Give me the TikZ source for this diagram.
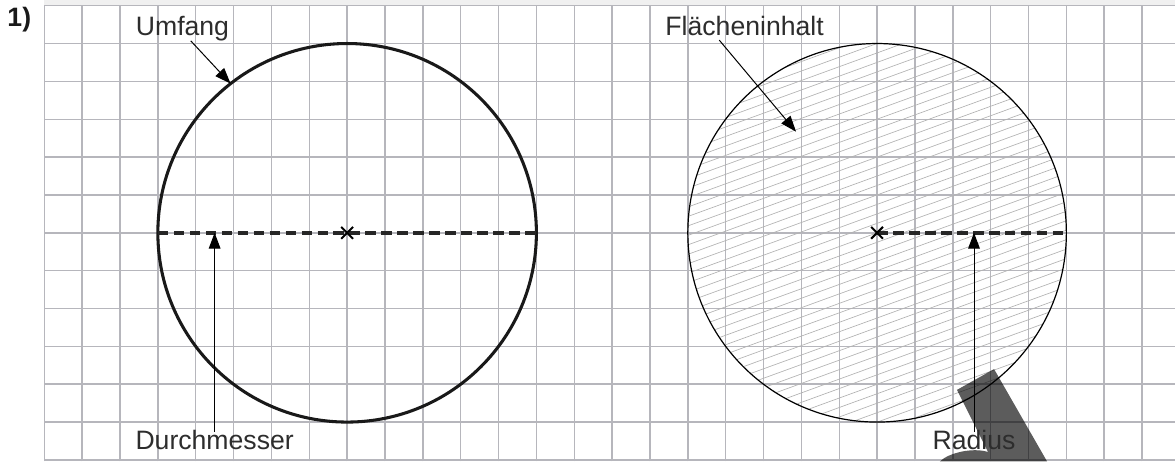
\documentclass[tikz,border=0pt]{standalone}
\usepackage{fontspec}
\setmainfont{Liberation Sans}
\usetikzlibrary{arrows.meta,shapes.misc}
\definecolor{gridgray}{RGB}{182,182,188}
\definecolor{hatchgray}{RGB}{178,178,178}
\definecolor{txtgray}{RGB}{45,45,45}

\begin{document}
\begin{tikzpicture}[
  gridline/.style={gridgray, line width=1.1pt},
  hatch/.style={hatchgray, line width=0.5pt},
  disc/.style={circle, draw, minimum size=10cm, inner sep=0pt, outer sep=0pt},
  dia/.style={line width=2.6pt, black!85, dash pattern=on 8pt off 4pt},
  mid/.style={cross out, draw, minimum size=0.26cm, inner sep=0pt, line width=1.5pt},
  lbl/.style={text=txtgray, font=\fontsize{20}{24}\selectfont, inner xsep=2pt, inner ysep=1pt, text height=0.75em, text depth=0.25em, anchor=base},
  arr/.style={-{Triangle[length=0.42cm,width=0.31cm]}, line width=0.75pt}
]
  \useasboundingbox (-1.17,-0.04) rectangle (29.87,12.15);
  \fill[gray!12] (0,12) rectangle (29.87,12.15);
  \foreach \y in {0,...,12} \draw[gridline] (0,\y) -- (29.87,\y);
  \foreach \x in {0,...,29} \draw[gridline] (\x,-0.04) -- (\x,12);

  \begin{scope}
    \clip (22,6) circle (5);
    \foreach \i in {-22,...,22}
      \draw[hatch, rotate around={20:(22,6)}] (16.5,{6+0.235*\i}) -- (27.5,{6+0.235*\i});
  \end{scope}

  \node[disc, line width=2.3pt, black!90] (lc) at (8,6) {};
  \node[disc, line width=0.9pt] (rc) at (22,6) {};
  \draw[dia] (lc.west) -- (lc.east);
  \draw[dia] (rc.center) -- (rc.east);
  \node[mid] (lx) at (lc.center) {};
  \node[mid] (rx) at (rc.center) {};

  \fill[black, fill opacity=0.64] (24.11,1.85) -- (25.09,2.40) -- (26.49,-0.04) -- (23.66,-0.04)
    .. controls (23.88,0.18) and (24.51,0.34) .. (24.93,0.21) -- cycle;

  \node[lbl, text=black!90] (num) at (-0.66,11.46) {\bfseries 1)};
  \node[lbl] (um) at (3.65,11.2) {Umfang};
  \node[lbl] (fl) at (18.5,11.22) {Flächeninhalt};
  \node[lbl] (dm) at (4.5,0.28) {Durchmesser};
  \node[lbl] (ra) at (24.56,0.27) {Radius};
  \coordinate (fa) at (19.86,8.67);

  \draw[arr] ([xshift=0.22cm]um.south) -- (lc.128.5);
  \draw[arr] ([xshift=-0.67cm]fl.south) -- (fa);
  \draw[arr] ([yshift=0.16cm]dm.north) -- (dm |- lc.center);
  \draw[arr] ([yshift=0.16cm]ra.north) -- (ra |- rc.center);
\end{tikzpicture}
\end{document}
